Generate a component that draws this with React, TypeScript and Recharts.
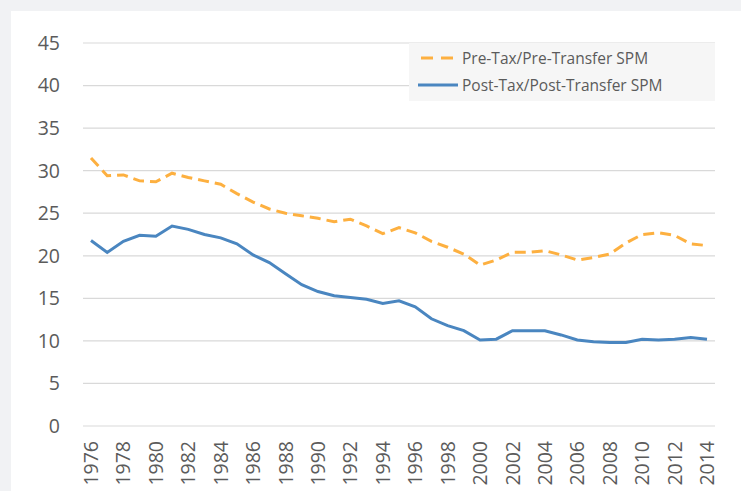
import React from "react";
import { LineChart, Line, XAxis, YAxis, CartesianGrid } from "recharts";

const years = [
  "1976","1977","1978","1979","1980","1981","1982","1983","1984","1985",
  "1986","1987","1988","1989","1990","1991","1992","1993","1994","1995",
  "1996","1997","1998","1999","2000","2001","2002","2003","2004","2005",
  "2006","2007","2008","2009","2010","2011","2012","2013","2014",
];
const preTax = [
  31.5, 29.4, 29.5, 28.8, 28.7, 29.7, 29.2, 28.8, 28.4, 27.3,
  26.3, 25.5, 25.0, 24.7, 24.4, 24.0, 24.3, 23.5, 22.6, 23.3,
  22.7, 21.7, 21.0, 20.2, 18.9, 19.5, 20.4, 20.4, 20.6, 20.1,
  19.5, 19.8, 20.2, 21.5, 22.5, 22.7, 22.4, 21.4, 21.2,
];
const postTax = [
  21.8, 20.4, 21.7, 22.4, 22.3, 23.5, 23.1, 22.5, 22.1, 21.4,
  20.1, 19.2, 17.9, 16.6, 15.8, 15.3, 15.1, 14.9, 14.4, 14.7,
  14.0, 12.6, 11.8, 11.2, 10.1, 10.2, 11.2, 11.2, 11.2, 10.7,
  10.1, 9.9, 9.8, 9.8, 10.2, 10.1, 10.2, 10.4, 10.2,
];
const yTicks = [0, 5, 10, 15, 20, 25, 30, 35, 40, 45];
const xTicks = years.filter((_, i) => i % 2 === 0);
const seriesNames = ["Pre-Tax/Pre-Transfer SPM", "Post-Tax/Post-Transfer SPM"];

const data = years.map((y, i) => ({ year: y, pre: preTax[i], post: postTax[i] }));

const FONT = "'Open Sans', sans-serif";
const TEXT = "#5b5b5b";
const ORANGE = "#FDB040";
const BLUE = "#4A86C0";

const XTick = (props: any) => {
  const { x, payload } = props;
  return (
    <g transform={`translate(${x},441) rotate(-90)`}>
      <text x={0} y={0} dy="0.36em" textAnchor="end" fill={TEXT} fontSize={19.5} fontFamily={FONT}>
        {payload.value}
      </text>
    </g>
  );
};

const LegendBox = () => (
  <div
    style={{
      position: "absolute",
      left: 409,
      top: 43,
      width: 306,
      height: 58,
      background: "#f6f6f6",
      fontFamily: FONT,
      fontSize: 15.5,
      color: TEXT,
    }}
  >
    <svg width={50} height={58} style={{ position: "absolute", left: 0, top: 0 }}>
      <line x1={12} y1={15} x2={49} y2={15} stroke={ORANGE} strokeWidth={3} strokeDasharray="12 8" />
      <line x1={9} y1={42} x2={49} y2={42} stroke={BLUE} strokeWidth={3} />
    </svg>
    <div style={{ position: "absolute", left: 53, top: 4, whiteSpace: "nowrap", lineHeight: "22px" }}>
      {seriesNames[0]}
    </div>
    <div style={{ position: "absolute", left: 53, top: 31, whiteSpace: "nowrap", lineHeight: "22px" }}>
      {seriesNames[1]}
    </div>
  </div>
);

export default function App() {
  return (
    <div
      style={{
        position: "absolute",
        left: 0,
        top: 0,
        width: 741,
        height: 491,
        background: "#f1f2f4",
        overflow: "hidden",
      }}
    >
      <div
        style={{
          position: "absolute",
          left: 11,
          top: 11,
          width: 730,
          height: 480,
          background: "#ffffff",
        }}
      />
      <div style={{ position: "absolute", left: 0, top: 0 }}>
        <LineChart
          width={741}
          height={491}
          data={data}
          margin={{ top: 43, right: 26, left: 0, bottom: 0 }}
        >
          <CartesianGrid vertical={false} stroke="#d9d9d9" strokeWidth={1.2} />
          <XAxis
            dataKey="year"
            ticks={xTicks}
            interval={0}
            height={65}
            padding={{ left: 8, right: 8 }}
            axisLine={false}
            tickLine={false}
            tick={<XTick />}
          />
          <YAxis
            domain={[0, 45]}
            ticks={yTicks}
            width={83}
            axisLine={false}
            tickLine={false}
            tickSize={0}
            tickMargin={23}
            tick={{ fill: TEXT, fontSize: 19.5, fontFamily: FONT }}
          />
          <Line
            dataKey="pre"
            name={seriesNames[0]}
            stroke={ORANGE}
            strokeWidth={3}
            strokeDasharray="11 6"
            dot={false}
            isAnimationActive={false}
          />
          <Line
            dataKey="post"
            name={seriesNames[1]}
            stroke={BLUE}
            strokeWidth={3}
            dot={false}
            isAnimationActive={false}
          />
        </LineChart>
      </div>
      <LegendBox />
    </div>
  );
}
